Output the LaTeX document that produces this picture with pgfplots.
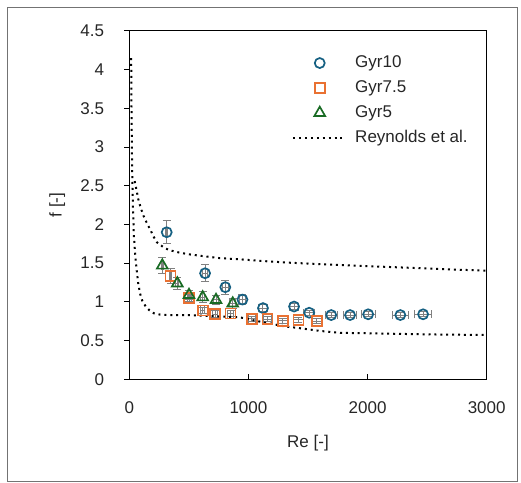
\documentclass[border=0pt]{standalone}
\usepackage{pgfplots}
\pgfplotsset{compat=1.18}
\usepackage{fontspec}
\setmainfont{Liberation Sans}
\definecolor{cblue}{HTML}{156082}
\definecolor{corange}{HTML}{E97132}
\definecolor{cgreen}{HTML}{196B24}
\definecolor{ebgray}{HTML}{808080}
\definecolor{txt}{HTML}{262626}
\pgfplotstableread{
x y ex ey
314 1.90 9 0.15
636 1.37 19 0.11
806 1.19 24 0.09
950 1.03 28 0.06
1122 0.92 34 0.05
1383 0.94 41 0.04
1510 0.86 45 0.03
1695 0.83 51 0.03
1853 0.83 56 0.03
2005 0.84 60 0.03
2275 0.83 68 0.03
2466 0.84 74 0.03
}\gyrten
\pgfplotstableread{
x y ex ey
347 1.335 10 0.10
503 1.05 15 0.05
616 0.89 18 0.04
722 0.843 22 0.04
850 0.85 26 0.04
1028 0.78 31 0.03
1159 0.778 35 0.03
1290 0.755 39 0.03
1419 0.77 43 0.03
1573 0.753 47 0.03
}\gyrsev
\pgfplotstableread{
x y ex ey
277 1.47 8 0.10
403 1.24 12 0.08
501 1.09 15 0.06
616 1.06 18 0.07
728 1.025 22 0.06
868 0.98 26 0.06
}\gyrfive
\begin{document}
\fontsize{17bp}{20bp}\selectfont
\begin{tikzpicture}
\path (-129.3bp,-103.7bp) rectangle (391.7bp,379.3bp);
\draw[color=black!55, line width=0.9bp] (-122.3bp,-101.7bp) rectangle (387.7bp,372.3bp);
\begin{axis}[
  scale only axis, width=357.4bp, height=348.3bp,
  xmin=0, xmax=3000, ymin=0, ymax=4.5,
  xtick={0,1000,2000,3000}, xticklabels={0,1000,2000,3000},
  ytick={0,0.5,1,1.5,2,2.5,3,3.5,4,4.5},
  yticklabels={0,0.5,1,1.5,2,2.5,3,3.5,4,4.5},
  tick pos=left, xtick align=inside, ytick align=outside,
  major tick length=5bp,
  axis line style={black, line width=1bp},
  tick style={black, line width=1bp},
  ticklabel style={font=\fontsize{17bp}{20bp}\selectfont, text=txt},
  xticklabel style={anchor=center, inner sep=0pt, yshift=-28.7bp},
  yticklabel style={anchor=east, inner sep=0pt, xshift=-20bp},
  xlabel={Re [-]}, ylabel={f [-]},
  label style={font=\fontsize{17bp}{20bp}\selectfont, text=txt},
  xlabel style={at={(axis description cs:0.5,-0.1829)}, anchor=center},
  ylabel style={at={(axis description cs:-0.2015,0.5)}, anchor=center},
  legend style={draw=none, fill=none, at={(0.447,0.935)}, anchor=north west,
    font=\fontsize{17bp}{20bp}\selectfont, text=txt, row sep=10.5bp,
    nodes={inner sep=0pt}},
  legend cell align=left,
  /tikz/every even column/.append style={column sep=16bp},
  legend image code/.code={\draw[mark repeat=2,mark phase=2,#1] plot coordinates {(0bp,0bp) (26.5bp,0bp) (53bp,0bp)};},
  error bars/error bar style={draw=ebgray, color=ebgray, line width=1bp},
  error bars/error mark options={rotate=90, draw=ebgray, color=ebgray, line width=1bp, mark size=4bp},
]
% error bars first (drawn under the markers)
\addplot[forget plot, draw=none, mark=none,
  error bars/.cd, x dir=both, x explicit, y dir=both, y explicit]
  table[x=x, y=y, x error=ex, y error=ey] {\gyrten};
\addplot[forget plot, draw=none, mark=none,
  error bars/.cd, x dir=both, x explicit, y dir=both, y explicit]
  table[x=x, y=y, x error=ex, y error=ey] {\gyrsev};
\addplot[forget plot, draw=none, mark=none,
  error bars/.cd, x dir=both, x explicit, y dir=both, y explicit]
  table[x=x, y=y, x error=ex, y error=ey] {\gyrfive};
% markers
\addplot[only marks, mark=o, mark size=5bp, mark options={draw=cblue, line width=1.7bp}]
  table[x=x, y=y] {\gyrten};
\addlegendentry{\hspace*{8bp}Gyr10}
\addplot[only marks, mark=square, mark size=5bp, mark options={draw=corange, line width=1.7bp}]
  table[x=x, y=y] {\gyrsev};
\addlegendentry{\hspace*{8bp}Gyr7.5}
\addplot[only marks, mark=triangle, mark size=6.2bp, mark options={draw=cgreen, line width=1.7bp}]
  table[x=x, y=y] {\gyrfive};
\addlegendentry{\hspace*{8bp}Gyr5}
\addplot[black, no marks, line width=2bp, dash pattern=on 2bp off 3.9bp] coordinates {
(45,2.56) (60,2.45) (75,2.33) (95,2.22) (120,2.11) (150,2.01) (177,1.93) (205,1.84)
(232,1.77) (283,1.71) (333,1.67) (426,1.635) (515,1.612) (627,1.59) (762,1.565)
(930,1.55) (1100,1.53) (1349,1.506) (1769,1.477) (2200,1.45) (2600,1.425) (3000,1.403)
};
\addlegendentry{\hspace*{8bp}Reynolds et al.}
\addplot[black, no marks, line width=2bp, dash pattern=on 2bp off 3.9bp, forget plot] coordinates {
(16,4.15) (18,3.6) (21,3.1) (25,2.6) (30,2.25) (39,1.84) (50,1.6) (62,1.41) (75,1.24)
(90,1.11) (110,1.01) (138,0.94) (170,0.89) (207,0.853) (260,0.835) (343,0.83)
(515,0.83) (621,0.82) (800,0.81) (930,0.80) (1050,0.76) (1181,0.72) (1300,0.685)
(1433,0.66) (1601,0.625) (1769,0.60) (2000,0.595) (2500,0.58) (3000,0.572)
};
\end{axis}
\end{tikzpicture}
\end{document}
